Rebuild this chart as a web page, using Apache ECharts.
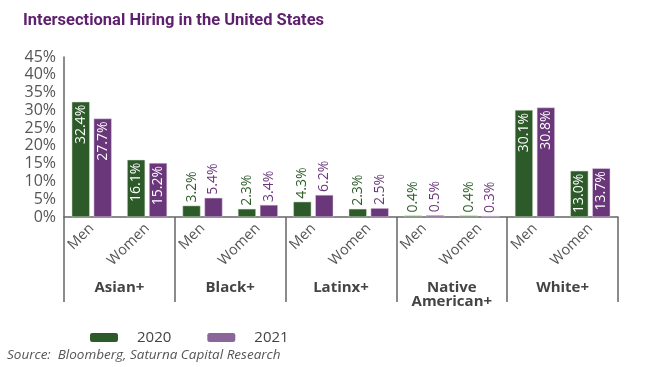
<!DOCTYPE html>
<html><head><meta charset="utf-8">
<script src="https://cdn.jsdelivr.net/npm/echarts@6/dist/echarts.min.js"></script>
<style>html,body{margin:0;padding:0;background:#fff}#c{width:650px;height:367px}</style>
</head><body><div id="c"></div>
<script>
const categories = ['Men','Women','Men','Women','Men','Women','Men','Women','Men','Women'];
const groups = ['Asian+','Black+','Latinx+','Native\nAmerican+','White+'];
const values2020 = [32.4,16.1,3.2,2.3,4.3,2.3,0.4,0.4,30.1,13.0];
const values2021 = [27.7,15.2,5.4,3.4,6.2,2.5,0.5,0.3,30.8,13.7];
const yTicks = [0,5,10,15,20,25,30,35,40,45];

const GREEN = '#2d5a29', PURPLE = '#6a377a', PURPLE_LEG = '#8a669b';
const FONT = 'Open Sans';
function mkData(vals, color){
  return vals.map(v => {
    const inside = v >= 10;
    return {value: v, label: inside ? {
      show:true, position:'insideTop', rotate:90, align:'right', verticalAlign:'middle',
      distance:3, color:'#fff'
    } : {
      show:true, position:'top', rotate:90, align:'left', verticalAlign:'middle',
      distance:3, color: color
    }};
  });
}
const chart = echarts.init(document.getElementById('c'));
chart.setOption({
  animation:false,
  title:[{text:'Intersectional Hiring in the United States', left:18, top:7,
    textStyle:{fontFamily:'Roboto', fontSize:16.5, fontWeight:'bold', color:'#5e1f6e'}},
    {text:'Source:  Bloomberg, Saturna Capital Research', left:2, top:343,
    textStyle:{fontFamily:FONT, fontSize:13.5, fontStyle:'italic', fontWeight:'normal', color:'#555'}}],
  legend:{left:85, top:325, itemWidth:28, itemHeight:9, itemGap:36,
    itemStyle:{borderWidth:0},
    textStyle:{fontFamily:FONT, fontSize:15, color:'#444', padding:[0,0,0,14]},
    data:[{name:'2020', itemStyle:{color:GREEN}},{name:'2021', itemStyle:{color:PURPLE_LEG}}]},
  grid:{left:64, right:32, top:57, bottom:150},
  xAxis:[{type:'category', data:categories, position:'bottom',
    axisLine:{lineStyle:{color:'#666', width:1.5}}, axisTick:{show:false},
    axisLabel:{interval:0, rotate:45, margin:9, fontFamily:FONT, fontSize:14.5, color:'#555'}},
   {type:'category', data:groups, position:'bottom', offset:0,
    axisLine:{show:false}, axisTick:{show:true, length:85, interval:0, lineStyle:{color:'#666', width:1.5}},
    axisLabel:{interval:0, margin:64, fontFamily:FONT, fontSize:15, fontWeight:'bold', color:'#444', lineHeight:14}}],
  yAxis:{type:'value', min:0, max:45, interval:5,
    axisLine:{show:true, lineStyle:{color:'#666', width:1.5}}, axisTick:{show:false}, splitLine:{show:false},
    axisLabel:{margin:8, fontFamily:FONT, fontSize:16, color:'#555', formatter:v=>v+'%'}},
  series:[
    {name:'2020', type:'bar', xAxisIndex:0, data:mkData(values2020, GREEN), barWidth:18, barGap:'22%',
     itemStyle:{color:GREEN, borderColor:'#d8e0d4', borderWidth:0.5},
     label:{fontFamily:FONT, fontSize:14, formatter:p=>p.value.toFixed(1)+'%'}},
    {name:'2021', type:'bar', xAxisIndex:0, data:mkData(values2021, PURPLE), barWidth:18, barGap:'22%',
     itemStyle:{color:PURPLE, borderColor:'#e0d4e4', borderWidth:0.5},
     label:{fontFamily:FONT, fontSize:14, formatter:p=>p.value.toFixed(1)+'%'}}
  ]
});
</script></body></html>
